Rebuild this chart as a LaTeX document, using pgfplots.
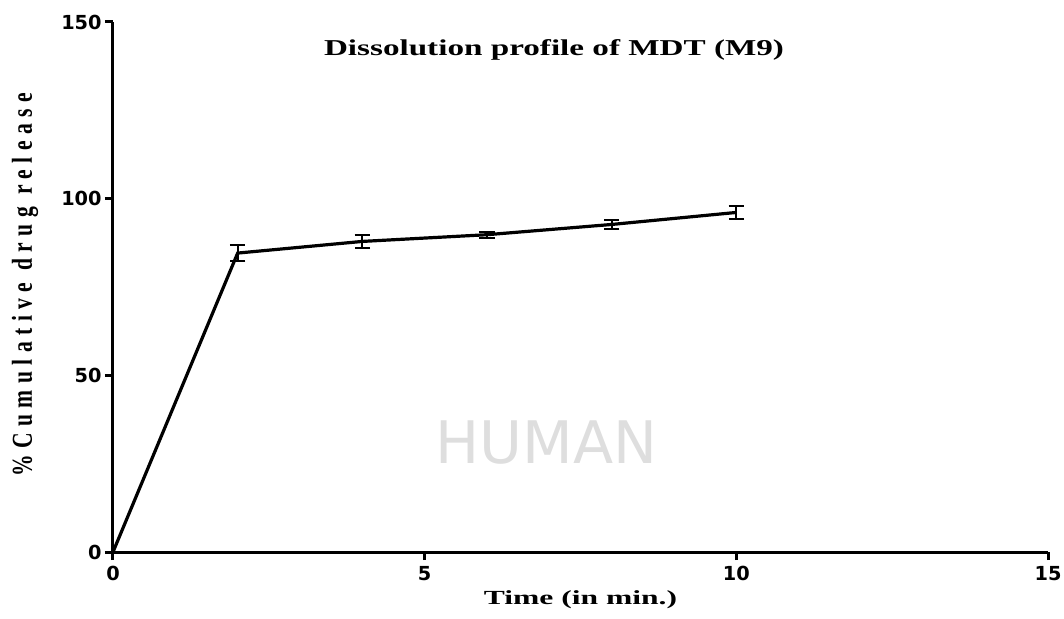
\documentclass[border=0pt]{standalone}
\usepackage{fontspec}
\setmainfont{Liberation Serif}
\newfontfamily\tickfont{DejaVu Sans}
\newfontfamily\wmfont{DejaVu Sans}
\usepackage{graphicx}
\usepackage{pgfplots}
\pgfplotsset{compat=1.18}
\begin{document}
\begin{tikzpicture}
\useasboundingbox (-84.75pt,-49.5pt) rectangle (713.25pt,414pt);
\begin{axis}[
  at={(0,0)}, anchor=south west,
  scale only axis, width=701.25pt, height=397.5pt,
  xmin=0, xmax=15, ymin=0, ymax=150,
  axis x line*=bottom, axis y line*=left,
  axis line style={line width=2.25pt, black},
  xtick={0,5,10,15}, ytick={0,50,100,150},
  minor tick num=0,
  tick align=outside, major tick length=6pt,
  every tick/.style={line width=2.25pt, black},
  /pgf/number format/assume math mode=true,
  tick label style={font=\tickfont\bfseries\fontsize{14.5}{17}\selectfont},
  yticklabel style={xshift=1pt},
  xticklabel style={yshift=-1pt},
  clip=false,
  xlabel={\resizebox{145pt}{\height}{\bfseries\fontsize{15}{18}\selectfont Time (in min.)}},
  xlabel style={at={(axis description cs:0.5,-0.0906)}, anchor=center},
  ylabel={\resizebox{288pt}{15pt}{\bfseries\fontsize{14}{16}\selectfont\addfontfeature{LetterSpace=30}\%Cumulative drug release}},
  ylabel style={at={(axis description cs:-0.094,0.504)}, anchor=center, rotate=0},
]
\node[text=black!13, font=\wmfont\fontsize{44}{48}\selectfont] at (axis cs:6.95,31) {HUMAN};
\node[anchor=center] at (axis description cs:0.4717,0.947)
  {\resizebox{345pt}{\height}{\bfseries\fontsize{17}{20}\selectfont Dissolution profile of MDT (M9)}};
\addplot[black, line width=2.4pt, mark=none,
  error bars/.cd, y dir=both, y explicit,
  error bar style={line width=1.5pt, black},
  error mark options={rotate=90, mark size=5.75pt, line width=1.5pt, black}]
  table[x=t, y=r, y error=e] {
t r e
0 0 0
2 84.6 2.2
4 87.9 1.75
6 89.8 0.8
8 92.7 1.25
10 96.1 1.9
};
\end{axis}
\end{tikzpicture}
\end{document}
